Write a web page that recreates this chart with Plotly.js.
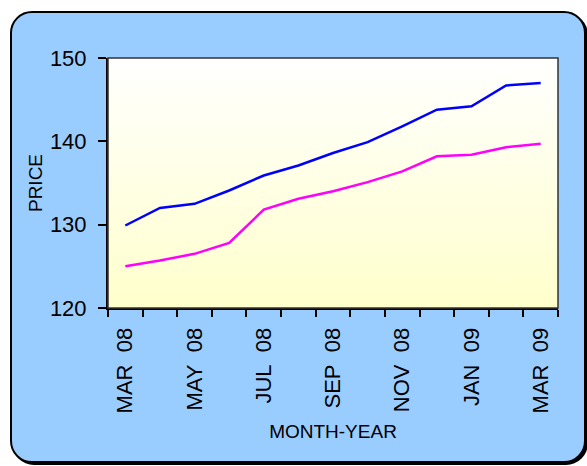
<!DOCTYPE html>
<html>
<head>
<meta charset="utf-8">
<script src="https://cdn.plot.ly/plotly-3.0.1.min.js"></script>
<style>
  html, body { margin: 0; padding: 0; background: #ffffff; }
  #frame {
    position: absolute; left: 10px; top: 11px; width: 572px; height: 448px;
    background: #99CCFF; border: 2px solid #000; border-radius: 22px;
    box-shadow: 2px 2px 0 #000;
  }
  #chart { position: absolute; left: 0; top: 0; width: 587px; height: 466px; }
</style>
</head>
<body>
<div id="frame"></div>
<div id="chart"></div>
<script>
const months = ["MAR 08","APR 08","MAY 08","JUN 08","JUL 08","AUG 08","SEP 08","OCT 08","NOV 08","DEC 08","JAN 09","FEB 09","MAR 09"];
const tickLabels = ["MAR\u00a0\u00a008","","MAY\u00a0\u00a008","","JUL\u00a0\u00a008","","SEP\u00a0\u00a008","","NOV\u00a0\u00a008","","JAN\u00a0\u00a009","","MAR\u00a0\u00a009"];
const bluePrice = [129.9,132.0,132.5,134.1,135.9,137.1,138.6,139.9,141.8,143.8,144.2,146.7,147.0];
const magentaPrice = [125.0,125.7,126.5,127.8,131.8,133.1,134.0,135.1,136.4,138.2,138.4,139.3,139.7];

const font = "Liberation Sans, Arial, sans-serif";
const grad = 'data:image/svg+xml;utf8,' + encodeURIComponent(
  '<svg xmlns="http://www.w3.org/2000/svg" width="100" height="100" preserveAspectRatio="none">' +
  '<defs><linearGradient id="g" x1="0" y1="0" x2="0" y2="1">' +
  '<stop offset="0" stop-color="#FFFFFF"/><stop offset="1" stop-color="#FFFFCC"/></linearGradient></defs>' +
  '<rect width="100" height="100" fill="url(#g)"/></svg>');

const traces = [
  {x: months, y: bluePrice, type: 'scatter', mode: 'lines', line: {color: '#0000FF', width: 2.5}, hoverinfo: 'none'},
  {x: months, y: magentaPrice, type: 'scatter', mode: 'lines', line: {color: '#FF00FF', width: 2.5}, hoverinfo: 'none'}
];

const layout = {
  width: 587, height: 466,
  margin: {l: 108, r: 29, t: 58, b: 158},
  paper_bgcolor: 'rgba(0,0,0,0)',
  plot_bgcolor: 'rgba(0,0,0,0)',
  showlegend: false,
  font: {family: font, color: '#000'},
  images: [{source: grad, xref: 'paper', yref: 'paper', x: 0, y: 1, sizex: 1, sizey: 1,
            sizing: 'stretch', xanchor: 'left', yanchor: 'top', layer: 'below'}],
  shapes: [{type: 'rect', xref: 'paper', yref: 'paper', x0: 0, x1: 1, y0: 0, y1: 1,
            line: {color: '#333333', width: 1.5}, layer: 'above'}],
  xaxis: {
    type: 'category',
    range: [-0.5, months.length - 0.5],
    tickmode: 'array', tickvals: months, ticktext: tickLabels,
    tickson: 'boundaries',
    tickangle: -90,
    ticks: 'outside', ticklen: 7, tickwidth: 2, tickcolor: '#000',
    showline: true, linewidth: 2, linecolor: '#000',
    showgrid: false, zeroline: false,
    tickfont: {family: font, size: 22, color: '#000'},
    ticklabelstandoff: 9,
    title: {text: 'MONTH-YEAR', font: {family: font, size: 19, color: '#000'}, standoff: 12},
    fixedrange: true
  },
  yaxis: {
    range: [120, 150], dtick: 10, tick0: 120,
    ticks: 'outside', ticklen: 8, tickwidth: 2, tickcolor: '#000',
    showline: true, linewidth: 2, linecolor: '#000',
    showgrid: false, zeroline: false,
    tickfont: {family: font, size: 22, color: '#000'},
    ticklabelstandoff: 7,
    title: {text: 'PRICE', font: {family: font, size: 19, color: '#000'}, standoff: 2},
    fixedrange: true
  }
};

Plotly.newPlot('chart', traces, layout, {displayModeBar: false, staticPlot: true});
</script>
</body>
</html>
